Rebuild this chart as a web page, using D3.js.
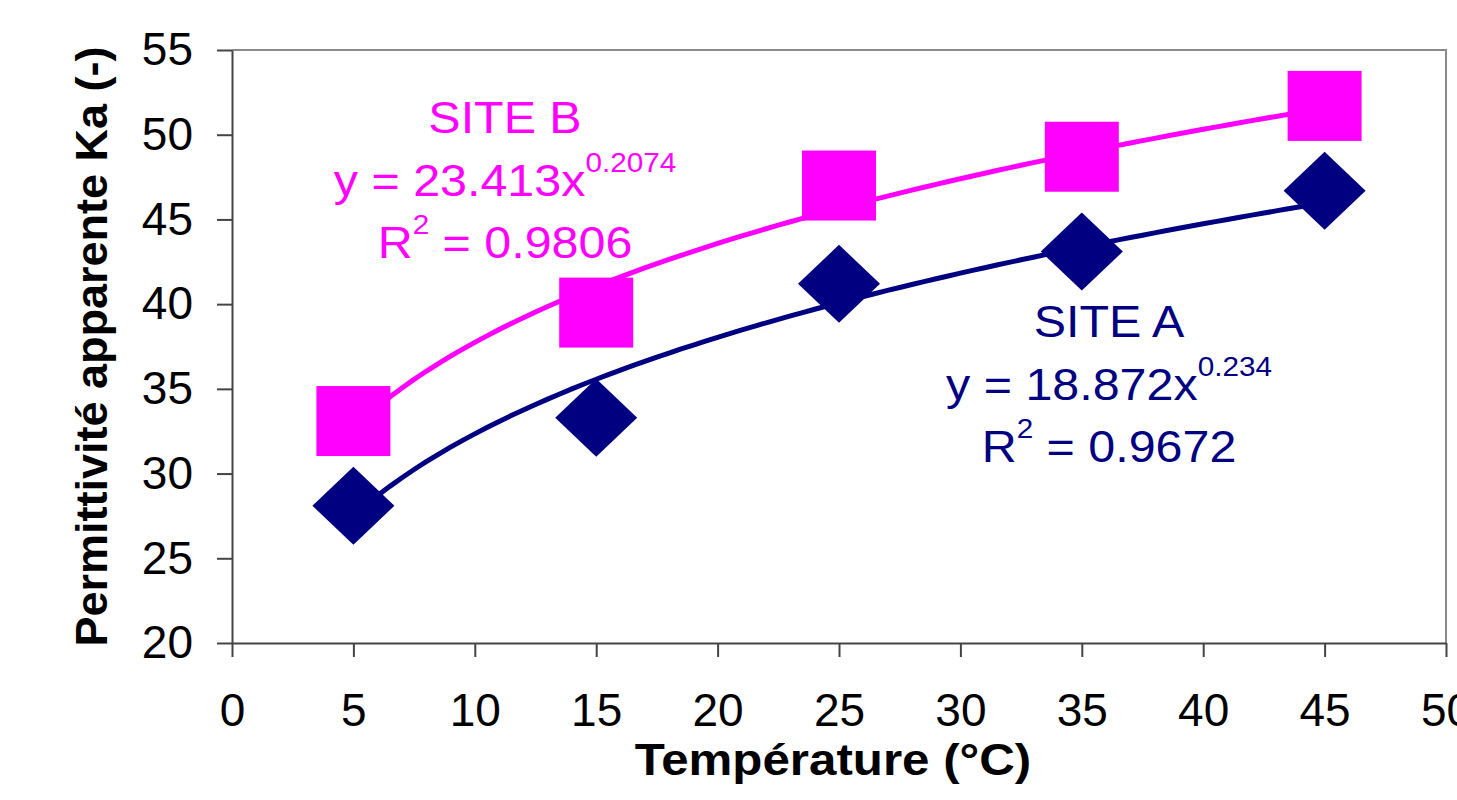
<!DOCTYPE html>
<html>
<head>
<meta charset="utf-8">
<script src="https://cdn.jsdelivr.net/npm/d3@7"></script>
<style>
  body { margin: 0; background: #fff; }
  svg text { font-family: "Liberation Sans", Arial, sans-serif; }
</style>
</head>
<body>
<script>
// values
var temperatures = [5, 15, 25, 35, 45];
var siteA = [28.1, 33.3, 41.2, 43.1, 46.7];
var siteB = [33.1, 39.5, 47.0, 48.7, 51.7];
// power trendlines y = a * x^b as printed on the chart
var fitA = {a: 18.872, b: 0.234};
var fitB = {a: 23.413, b: 0.2074};
var xTicks = [0, 5, 10, 15, 20, 25, 30, 35, 40, 45, 50];
var yTicks = [20, 25, 30, 35, 40, 45, 50, 55];

var width = 1457,
    height = 800;
var margin = {top: 50, right: 11, bottom: 157, left: 232};
var w = width - margin.left - margin.right,
    h = height - margin.top - margin.bottom;

var svg = d3.select('body')
    .append('svg')
    .attr('width', width)
    .attr('height', height);

var g = svg.append('g')
    .attr('transform', 'translate(' + margin.left + ',' + margin.top + ')');

var x = d3.scaleLinear().domain([0, 50]).range([0, w]);
var y = d3.scaleLinear().domain([20, 55]).range([h, 0]);

// plot area border (top + right)
g.append('path')
    .attr('d', 'M0,0H' + w + 'V' + h)
    .attr('fill', 'none')
    .attr('stroke', '#8a8a8a')
    .attr('stroke-width', 2);

var xAxis = g.append('g')
    .attr('transform', 'translate(0,' + h + ')')
    .call(d3.axisBottom(x).tickValues(xTicks).tickSize(14).tickPadding(36).tickSizeOuter(0));

var yAxis = g.append('g')
    .call(d3.axisLeft(y).tickValues(yTicks).tickSize(15).tickPadding(24).tickSizeOuter(0));

[xAxis, yAxis].forEach(function(ax) {
    ax.select('.domain').attr('stroke', '#444').attr('stroke-width', 2);
    ax.selectAll('.tick line').attr('stroke', '#444').attr('stroke-width', 2);
    ax.selectAll('.tick text')
        .attr('fill', '#000')
        .style('font-size', '46px')
        .style('font-family', '"Liberation Sans", Arial, sans-serif');
});

// trendlines
var line = d3.line()
    .x(function(d) { return x(d[0]); })
    .y(function(d) { return y(d[1]); });

function curve(fit) {
    return d3.range(5, 45.01, 0.5).map(function(t) {
        return [t, fit.a * Math.pow(t, fit.b)];
    });
}

g.append('path')
    .attr('d', line(curve(fitB)))
    .attr('fill', 'none')
    .attr('stroke', '#ff00ff')
    .attr('stroke-width', 5);

g.append('path')
    .attr('d', line(curve(fitA)))
    .attr('fill', 'none')
    .attr('stroke', '#000080')
    .attr('stroke-width', 5);

// site B squares
var sq = 37, sqh = 35;
g.selectAll('rect.b')
    .data(temperatures).enter()
    .append('rect')
    .attr('class', 'b')
    .attr('x', function(d) { return x(d) - sq; })
    .attr('y', function(d, i) { return y(siteB[i]) - sqh; })
    .attr('width', sq * 2)
    .attr('height', sqh * 2)
    .attr('fill', '#ff00ff');

// site A diamonds
var dw = 41, dh = 39;
g.selectAll('path.a')
    .data(temperatures).enter()
    .append('path')
    .attr('class', 'a')
    .attr('d', function(d, i) {
        var cx = x(d), cy = y(siteA[i]);
        return 'M' + cx + ',' + (cy - dh) + 'L' + (cx + dw) + ',' + cy +
               'L' + cx + ',' + (cy + dh) + 'L' + (cx - dw) + ',' + cy + 'Z';
    })
    .attr('fill', '#000080');

// equation labels (text in the original is a bit wider than Liberation Sans)
function stretched(parent, cx, cy, sx) {
    return parent.append('g')
        .attr('transform', 'translate(' + cx + ',' + cy + ') scale(' + sx + ',1)')
        .append('text')
        .attr('text-anchor', 'middle');
}

function label(cx, y0, color, site, coef, exp, r2) {
    var t = svg.append('g').attr('fill', color);
    stretched(t, cx, y0, 1.1)
        .style('font-size', '44px')
        .text(site);
    var eq = stretched(t, cx, y0 + 63, 1.1)
        .style('font-size', '44px');
    eq.append('tspan').text('y = ' + coef + 'x');
    eq.append('tspan').attr('dy', -24).style('font-size', '27px').text(exp);
    var r = stretched(t, cx, y0 + 125, 1.1)
        .style('font-size', '44px');
    r.append('tspan').text('R');
    r.append('tspan').attr('dy', -24).style('font-size', '27px').text('2');
    r.append('tspan').attr('dy', 24).text(' = ' + r2);
}

label(505, 133, '#ff00ff', 'SITE B', '23.413', '0.2074', '0.9806');
label(1109, 337, '#000080', 'SITE A', '18.872', '0.234', '0.9672');

// axis titles
stretched(svg, 833, 775, 1.12)
    .style('font-size', '44px')
    .style('font-weight', 'bold')
    .text('Température (°C)');

svg.append('text')
    .attr('transform', 'translate(107,' + (margin.top + h / 2) + ') rotate(-90)')
    .attr('text-anchor', 'middle')
    .style('font-size', '45px')
    .style('font-weight', 'bold')
    .text('Permittivité apparente Ka (-)');
</script>
</body>
</html>
